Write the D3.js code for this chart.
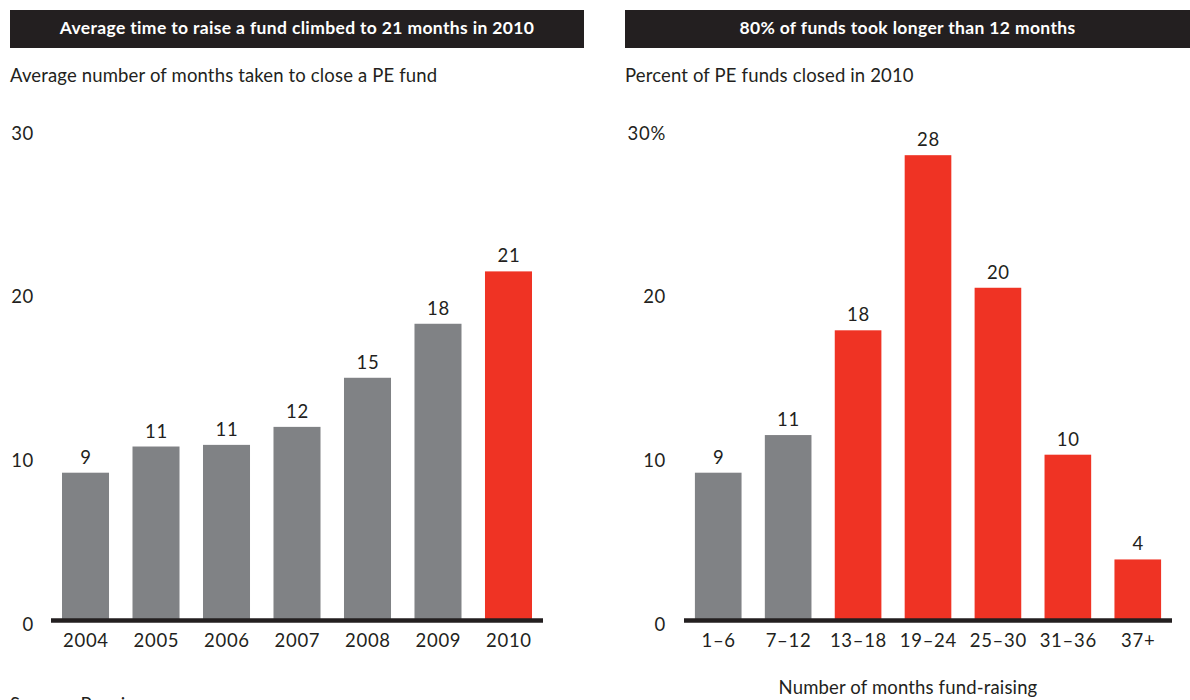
<!DOCTYPE html>
<html lang="en">
<head>
    <meta charset="UTF-8">
    <title>PE fund-raising time</title>
    <script src="https://d3js.org/d3.v7.min.js"></script>
    <style>
        body {
            margin: 0;
            background: #ffffff;
            font-family: Lato, "Open Sans", sans-serif;
        }
        .lbl {
            font-weight: 400;
            letter-spacing: 0.7px;
        }
    </style>
</head>
<body>
<main></main>
<script>
    // left panel
    var years = ['2004', '2005', '2006', '2007', '2008', '2009', '2010'];
    var avgMonths = [9.0, 10.6, 10.7, 11.8, 14.8, 18.1, 21.3];
    var highlightYears = ['2010'];

    // right panel
    var monthBuckets = ['1–6', '7–12', '13–18', '19–24', '25–30', '31–36', '37+'];
    var pctFunds = [9.0, 11.3, 17.7, 28.4, 20.3, 10.1, 3.7];
    var highlightBuckets = ['13–18', '19–24', '25–30', '31–36', '37+'];

    var yTicks = [0, 10, 20, 30];

    var w = 1190, h = 700;
    var grey = '#808285', red = '#ef3324', dark = '#231f20';

    var svg = d3.select('main')
                .append('svg')
                .attr('width', w)
                .attr('height', h);

    function drawPanel(p) {
        var g = svg.append('g');

        // title bar
        g.append('rect')
            .attr('x', p.barX)
            .attr('y', 10)
            .attr('width', p.barW)
            .attr('height', 38)
            .style('fill', dark);
        g.append('text')
            .attr('x', p.barX + p.barW / 2)
            .attr('y', 34)
            .attr('text-anchor', 'middle')
            .attr('font-size', '17.5px')
            .attr('font-weight', 'bold')
            .style('letter-spacing', '0.35px')
            .style('fill', '#ffffff')
            .text(p.title);

        g.append('text')
            .attr('class', 'lbl')
            .attr('x', p.barX)
            .attr('y', 82)
            .attr('font-size', '18.5px')
            .style('letter-spacing', '0.15px')
            .style('fill', dark)
            .text(p.subtitle);

        var xScale = d3.scaleBand()
                       .domain(p.cats)
                       .range([p.x0, p.x1])
                       .paddingInner(0.333)
                       .paddingOuter(0.156);
        var yScale = d3.scaleLinear()
                       .domain([0, 30])
                       .range([620, 129]);

        var data = p.cats.map(function(c, i) {
            return {cat: c, val: p.vals[i]};
        });

        g.append('g').selectAll('rect')
            .data(data)
            .enter()
            .append('rect')
            .attr('x', function(d) { return xScale(d.cat); })
            .attr('width', xScale.bandwidth())
            .attr('y', function(d) { return yScale(d.val); })
            .attr('height', function(d) { return yScale(0) - yScale(d.val); })
            .style('fill', function(d) {
                return p.highlight.indexOf(d.cat) >= 0 ? red : grey;
            });

        // value labels
        g.append('g').selectAll('text')
            .data(data)
            .enter()
            .append('text')
            .attr('class', 'lbl')
            .attr('x', function(d) { return xScale(d.cat) + xScale.bandwidth() / 2 + 0.4; })
            .attr('y', function(d) { return yScale(d.val) - 9; })
            .attr('text-anchor', 'middle')
            .attr('font-size', '18.5px')
            .style('fill', dark)
            .text(function(d) { return d3.format('.0f')(d.val); });

        // y axis labels, no line
        var yAxis = d3.axisLeft(yScale)
                      .tickValues(yTicks)
                      .tickSize(0)
                      .tickPadding(0)
                      .tickFormat(function(d) { return (d === 30 && p.pct) ? d + '%' : d; });
        var ya = g.append('g')
            .attr('transform', 'translate(' + p.yLabelX + ',0)')
            .call(yAxis);
        ya.select('.domain').remove();
        ya.selectAll('text')
            .attr('class', 'lbl')
            .attr('font-size', '18.5px')
            .attr('font-family', 'Lato, sans-serif')
            .attr('dy', '0.55em')
            .style('fill', dark);

        // x axis labels
        var xAxis = d3.axisBottom(xScale).tickSize(0).tickPadding(0);
        var xa = g.append('g')
            .attr('transform', 'translate(0.4,' + 634 + ')')
            .call(xAxis);
        xa.select('.domain').remove();
        xa.selectAll('text')
            .attr('class', 'lbl')
            .attr('font-size', '18.5px')
            .attr('font-family', 'Lato, sans-serif')
            .style('fill', dark);

        // baseline
        g.append('line')
            .attr('x1', p.x0)
            .attr('x2', p.x1)
            .attr('y1', yScale(0) + 0.5)
            .attr('y2', yScale(0) + 0.5)
            .style('stroke', dark)
            .style('stroke-width', 4.5);

        return xScale;
    }

    drawPanel({
        barX: 10, barW: 574,
        title: 'Average time to raise a fund climbed to 21 months in 2010',
        subtitle: 'Average number of months taken to close a PE fund',
        cats: years, vals: avgMonths, highlight: highlightYears,
        x0: 51, x1: 543, yLabelX: 34, pct: false
    });

    drawPanel({
        barX: 625, barW: 565,
        title: '80% of funds took longer than 12 months',
        subtitle: 'Percent of PE funds closed in 2010',
        cats: monthBuckets, vals: pctFunds, highlight: highlightBuckets,
        x0: 684, x1: 1172, yLabelX: 666, pct: true
    });

    svg.append('text')
        .attr('class', 'lbl')
        .attr('x', 908)
        .attr('y', 694)
        .attr('text-anchor', 'middle')
        .attr('font-size', '18.5px')
        .style('letter-spacing', '0.15px')
        .style('fill', dark)
        .text('Number of months fund-raising');

    // source line, mostly below the visible area
    svg.append('text')
        .attr('class', 'lbl')
        .attr('x', 10)
        .attr('y', 711)
        .attr('font-size', '18.5px')
        .style('fill', dark)
        .text('Source: Preqin');
</script>
</body>
</html>
